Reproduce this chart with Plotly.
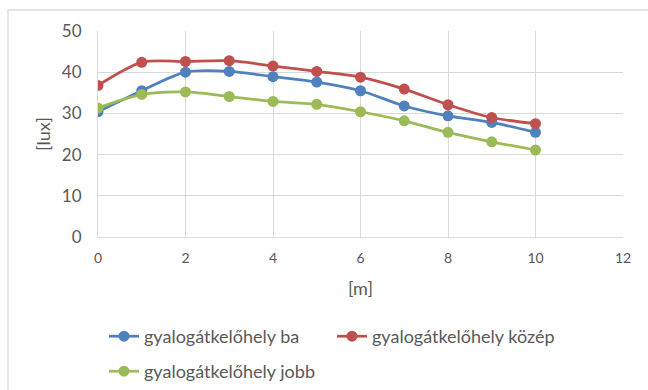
import plotly.graph_objects as go

x_m = [0, 1, 2, 3, 4, 5, 6, 7, 8, 9, 10]
ba = [30.4, 35.5, 40.0, 40.2, 38.9, 37.6, 35.5, 31.8, 29.4, 27.8, 25.4]
kozep = [36.8, 42.4, 42.6, 42.8, 41.5, 40.2, 38.8, 35.9, 32.1, 29.0, 27.5]
jobb = [31.3, 34.6, 35.2, 34.1, 32.9, 32.2, 30.4, 28.2, 25.4, 23.1, 21.1]
names = ["gyalogátkelőhely ba", "gyalogátkelőhely közép", "gyalogátkelőhely jobb"]
colors = ["#4F81BD", "#C0504D", "#9BBB59"]

FONT = "Lato"
TXT = "#595959"
GRID = "#D9D9D9"

fig = go.Figure()
for vals, name, col, leg in zip([ba, kozep, jobb], names, colors, ["legend", "legend2", "legend3"]):
    fig.add_trace(go.Scatter(
        x=x_m, y=vals, name=name, mode="lines+markers",
        line=dict(color=col, width=2.75, shape="spline", smoothing=0.8),
        marker=dict(color=col, size=11),
        legend=leg, showlegend=True,
    ))

def leg(xpx, ypx):
    return dict(orientation="h", xref="container", yref="container",
                x=xpx/648, y=1-ypx/390, xanchor="left", yanchor="top",
                font=dict(size=18, color=TXT, family=FONT),
                bgcolor="rgba(0,0,0,0)")

fig.update_layout(
    width=648, height=390,
    margin=dict(l=98, r=25, t=31, b=153),
    paper_bgcolor="white", plot_bgcolor="white",
    font=dict(family=FONT, color=TXT),
    showlegend=True,
    legend=leg(104, 318),
    legend2=leg(332, 318),
    legend3=leg(104, 353),
    xaxis=dict(range=[0, 12], dtick=2, tick0=0, showgrid=True, gridcolor=GRID,
               gridwidth=1, zeroline=False, showline=True, linecolor=GRID,
               linewidth=1.3, tickfont=dict(size=14, color=TXT, family=FONT),
               ticklabelstandoff=8,
               title=dict(text="[m]", font=dict(size=18, color=TXT, family=FONT), standoff=17)),
    yaxis=dict(range=[0, 50], dtick=10, tick0=0, showgrid=True, gridcolor=GRID,
               gridwidth=1, zeroline=False, showline=True, linecolor=GRID,
               tickfont=dict(size=17, color=TXT, family=FONT),
               ticklabelstandoff=12,
               title=dict(text="[lux]", font=dict(size=18, color=TXT, family=FONT), standoff=6)),
)

# outer chart frame
fig.add_shape(type="rect", xref="paper", yref="paper",
              x0=(8-98)/525, x1=1.2, y0=-1.0, y1=(237-10)/206,
              line=dict(color="#D9D9D9", width=1.3), fillcolor="rgba(0,0,0,0)", layer="below")

fig.write_html("out.html")
